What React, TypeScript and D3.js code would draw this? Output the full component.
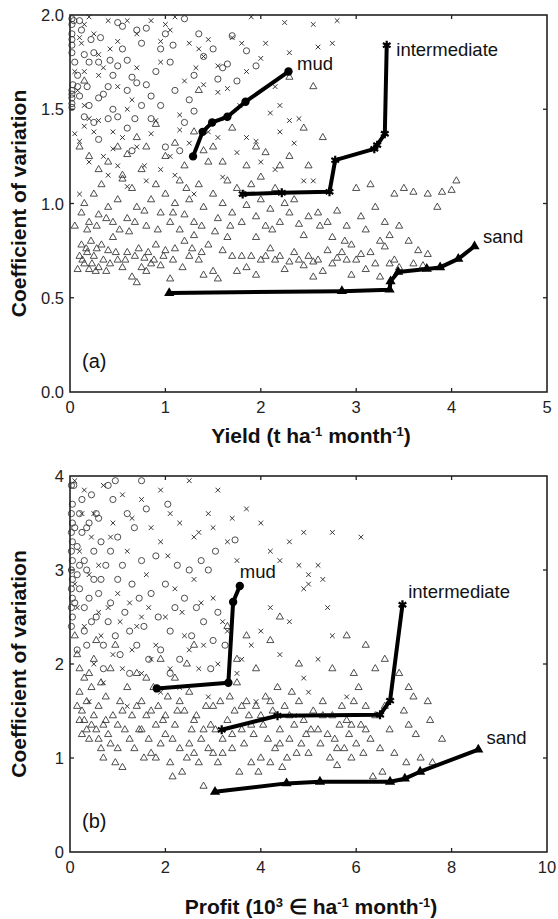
import * as d3 from "d3";

type Pt = [number, number];

// panel (a): yield vs coefficient of variation
const yieldTicks = [0, 1, 2, 3, 4, 5];
const cvTicksA = [0, 0.5, 1, 1.5, 2];

const mudScatterA: Pt[] = [
  [0.02, 1.98], [0.02, 1.95], [0.02, 1.9], [0.02, 1.87], [0.02, 1.84], [0.02, 1.6], [0.02, 1.58], [0.02, 1.56],
  [0.02, 1.53], [0.02, 1.51], [0.03, 1.63], [0.04, 1.97], [0.1, 1.97], [0.12, 1.92], [0.15, 1.79], [0.2, 1.75],
  [0.25, 1.8], [0.3, 1.75], [0.32, 1.88], [0.55, 1.94], [0.35, 1.58], [0.3, 1.56], [0.1, 1.57], [0.08, 1.62],
  [0.2, 1.52], [0.15, 1.46], [0.25, 1.43], [0.4, 1.45], [0.45, 1.68], [0.5, 1.73], [0.6, 1.6], [0.65, 1.67],
  [0.7, 1.64], [0.8, 1.63], [0.85, 1.57], [0.9, 1.7], [0.55, 1.82], [0.6, 1.76], [0.75, 1.85], [0.8, 1.93],
  [0.95, 1.82], [1.05, 1.75], [1.1, 1.6], [1.25, 1.55], [1.3, 1.68], [0.45, 1.5], [0.5, 1.46], [0.6, 1.4],
  [0.85, 1.45], [0.95, 1.52], [1.0, 1.9], [1.2, 1.98], [1.35, 1.9], [1.5, 1.82], [1.55, 1.66], [1.6, 1.72],
  [1.75, 1.65], [1.7, 1.89], [1.2, 1.43], [1.0, 1.3], [1.3, 1.49], [0.3, 1.34], [0.65, 1.28], [1.4, 1.78],
  [1.65, 1.74], [1.15, 1.28], [0.75, 1.52], [0.4, 1.62], [1.85, 1.81], [1.95, 1.73], [0.02, 1.8], [0.05, 1.75],
  [0.08, 1.68], [0.18, 1.62], [0.22, 1.87], [0.42, 1.76], [0.5, 1.96], [0.68, 1.45], [0.7, 1.92], [1.08, 1.84],
];

const intScatterA: Pt[] = [
  [0.1, 1.88], [0.12, 1.85], [0.15, 1.95], [0.2, 1.99], [0.25, 1.9], [0.4, 1.97], [0.5, 1.86], [0.6, 1.97],
  [0.7, 1.9], [0.85, 1.97], [0.95, 1.86], [1.05, 1.92], [1.1, 1.99], [1.25, 1.85], [1.35, 1.82], [1.4, 1.78],
  [1.45, 1.87], [1.55, 1.73], [1.7, 1.88], [1.8, 1.85], [1.9, 1.99], [2.05, 1.85], [2.25, 1.96], [2.55, 1.95],
  [2.75, 1.85], [2.3, 1.8], [2.0, 1.77], [1.65, 1.61], [0.15, 1.7], [0.3, 1.68], [0.35, 1.72], [0.5, 1.62],
  [0.7, 1.72], [0.95, 1.75], [1.2, 1.65], [1.4, 1.63], [1.55, 1.59], [1.85, 1.7], [2.1, 1.48], [2.2, 1.52],
  [2.3, 1.44], [2.4, 1.45], [2.35, 1.32], [2.2, 1.38], [2.6, 1.83], [0.05, 1.37], [0.1, 1.33], [0.15, 1.41],
  [0.25, 1.38], [0.3, 1.44], [0.45, 1.38], [0.55, 1.35], [0.7, 1.3], [0.85, 1.37], [1.15, 1.47], [1.15, 1.39],
  [1.25, 1.32], [1.45, 1.38], [1.55, 1.35], [1.75, 1.27], [1.95, 1.33], [2.0, 1.22], [2.45, 1.12], [2.55, 1.12],
  [2.15, 1.18], [0.2, 1.22], [0.35, 1.25], [0.45, 1.29], [0.5, 1.2], [0.8, 1.12], [0.95, 1.18], [1.1, 1.15],
  [1.3, 1.05], [0.1, 1.05], [0.6, 1.09], [1.6, 1.14], [1.85, 1.35], [0.4, 1.15], [2.8, 1.97], [1.0, 1.95],
  [0.3, 1.79], [0.6, 1.5], [0.9, 1.44], [0.05, 1.7], [0.15, 1.52], [0.08, 1.6], [0.2, 1.45], [0.42, 1.82],
  [0.65, 1.55], [0.78, 1.2], [1.05, 1.25], [1.32, 1.72], [1.62, 1.45], [1.78, 1.52], [2.15, 1.62],
];

const sandScatterA: Pt[] = [
  [0.08, 0.65], [0.1, 0.72], [0.12, 0.78], [0.15, 0.68], [0.18, 0.74], [0.2, 0.65], [0.22, 0.8], [0.25, 0.72],
  [0.28, 0.76], [0.3, 0.66], [0.35, 0.7], [0.38, 0.64], [0.4, 0.75], [0.45, 0.82], [0.5, 0.7], [0.55, 0.66],
  [0.6, 0.74], [0.65, 0.61], [0.7, 0.58], [0.72, 0.76], [0.78, 0.71], [0.8, 0.64], [0.85, 0.68], [0.9, 0.78],
  [0.95, 0.67], [1.0, 0.75], [1.05, 0.6], [1.1, 0.76], [1.15, 0.86], [1.2, 0.8], [1.25, 0.72], [1.3, 0.83],
  [1.35, 0.7], [1.4, 0.62], [1.45, 0.78], [1.5, 0.64], [1.55, 0.6], [1.6, 0.75], [1.7, 0.72], [1.75, 0.64],
  [1.8, 0.72], [1.85, 0.66], [1.9, 0.72], [1.95, 0.62], [2.0, 0.7], [2.05, 0.72], [2.1, 0.76], [2.15, 0.7],
  [2.2, 0.72], [2.25, 0.65], [2.3, 0.69], [2.35, 0.74], [2.4, 0.7], [2.45, 0.67], [2.5, 0.72], [2.55, 0.69],
  [2.6, 0.7], [2.65, 0.64], [2.7, 0.75], [2.75, 0.68], [2.8, 0.71], [2.85, 0.74], [2.9, 0.7], [2.95, 0.78],
  [3.0, 0.7], [3.05, 0.73], [3.1, 0.65], [3.15, 0.74], [3.2, 0.68], [3.25, 0.61], [3.3, 0.77], [3.35, 0.68],
  [3.4, 0.7], [3.45, 0.66], [3.6, 0.68], [3.7, 0.67], [3.75, 0.73], [2.55, 0.61], [2.95, 0.62], [1.95, 0.82],
  [2.45, 0.83], [0.05, 0.88], [0.12, 0.95], [0.15, 1.0], [0.2, 0.9], [0.25, 1.05], [0.3, 0.94], [0.33, 1.1],
  [0.4, 0.98], [0.45, 0.9], [0.5, 1.02], [0.55, 1.15], [0.6, 0.92], [0.65, 1.08], [0.7, 0.98], [0.75, 1.18],
  [0.8, 0.88], [0.85, 1.02], [0.9, 1.1], [0.95, 0.95], [1.0, 1.05], [1.05, 0.9], [1.1, 1.0], [1.15, 1.12],
  [1.2, 0.94], [1.25, 1.02], [1.3, 0.9], [1.35, 1.1], [1.4, 0.98], [1.45, 1.22], [1.5, 1.05], [1.55, 0.92],
  [1.6, 1.0], [1.65, 1.12], [1.7, 0.95], [1.75, 1.08], [1.8, 0.9], [1.85, 0.99], [1.9, 1.1], [1.95, 0.93],
  [2.0, 1.02], [2.05, 0.88], [2.1, 0.97], [2.15, 1.08], [2.2, 0.9], [2.3, 0.95], [2.35, 1.02], [2.4, 0.89],
  [2.5, 0.93], [2.6, 0.95], [2.7, 0.9], [2.8, 0.96], [2.9, 0.88], [3.0, 1.08], [3.05, 0.93], [3.15, 1.1],
  [3.2, 0.98], [3.3, 0.9], [3.4, 1.05], [3.5, 1.08], [3.6, 1.06], [3.75, 1.05], [3.9, 1.06], [4.0, 1.07],
  [4.05, 1.12], [3.35, 0.83], [3.55, 0.8], [3.85, 0.98], [3.1, 0.86], [0.1, 1.3], [0.2, 1.25], [0.3, 1.18],
  [0.4, 1.22], [0.5, 1.3], [0.6, 1.26], [0.7, 1.35], [0.8, 1.3], [0.9, 1.42], [1.0, 1.25], [1.1, 1.32],
  [1.2, 1.2], [1.3, 1.38], [1.4, 1.28], [1.5, 1.3], [1.6, 1.22], [1.7, 1.4], [1.85, 1.2], [1.95, 1.3],
  [2.05, 1.27], [2.2, 1.2], [2.3, 1.25], [2.5, 1.2], [2.65, 1.35], [2.45, 1.4], [0.15, 1.65], [0.55, 1.13],
  [2.0, 1.14], [2.3, 1.67], [2.55, 1.62], [1.35, 1.6], [0.13, 0.7], [0.17, 0.76], [0.23, 0.68], [0.27, 0.64],
  [0.33, 0.78], [0.42, 0.68], [0.48, 0.74], [0.58, 0.7], [0.62, 0.85], [0.68, 0.72], [0.75, 0.66], [0.82, 0.74],
  [0.88, 0.7], [0.98, 0.72], [1.08, 0.7], [1.18, 0.66], [1.28, 0.76], [1.38, 0.74], [0.18, 0.86], [0.28, 0.88],
  [0.38, 0.92], [0.52, 0.86], [0.68, 0.9], [0.78, 0.96], [0.92, 0.86], [1.08, 0.95], [1.22, 1.08], [1.38, 0.88],
  [1.52, 0.85], [1.68, 0.88], [1.82, 1.05], [2.12, 0.86], [2.25, 1.0], [2.62, 0.88], [2.75, 0.82], [2.88, 0.8],
  [3.25, 0.8], [3.45, 0.88], [3.65, 0.75], [1.65, 0.82],
];

const mudFrontA: Pt[] = [[1.29, 1.25], [1.39, 1.38], [1.49, 1.43], [1.65, 1.46], [1.84, 1.54], [2.29, 1.7]];
const intFrontA: Pt[] = [
  [1.81, 1.05], [2.22, 1.057], [2.72, 1.062], [2.78, 1.23], [3.19, 1.29], [3.22, 1.31], [3.3, 1.37], [3.32, 1.84],
];
const sandFrontA: Pt[] = [
  [1.04, 0.525], [2.85, 0.535], [3.35, 0.543], [3.36, 0.587], [3.44, 0.637], [3.74, 0.653], [3.88, 0.661],
  [4.07, 0.706], [4.24, 0.773],
];

// panel (b): profit vs coefficient of variation
const profitTicks = [0, 2, 4, 6, 8, 10];
const cvTicksB = [0, 1, 2, 3, 4];

const mudScatterB: Pt[] = [
  [0.05, 3.5], [0.05, 3.3], [0.05, 3.1], [0.05, 2.9], [0.05, 2.7], [0.05, 2.5], [0.05, 3.7], [0.08, 3.9],
  [0.1, 3.45], [0.15, 3.25], [0.15, 2.95], [0.2, 3.6], [0.2, 2.8], [0.25, 3.4], [0.25, 3.75], [0.3, 3.1],
  [0.3, 2.6], [0.35, 3.0], [0.4, 3.5], [0.4, 2.7], [0.45, 3.8], [0.5, 2.9], [0.5, 3.2], [0.55, 2.5],
  [0.6, 3.55], [0.6, 2.75], [0.65, 3.3], [0.7, 2.2], [0.75, 3.05], [0.8, 2.45], [0.8, 3.9], [0.85, 2.65],
  [0.9, 3.75], [0.95, 2.3], [1.0, 2.9], [1.0, 3.35], [1.05, 2.1], [1.1, 3.05], [1.15, 2.55], [1.2, 3.6],
  [1.25, 2.35], [1.3, 2.85], [1.35, 3.45], [1.4, 2.2], [1.45, 2.7], [1.5, 3.1], [1.55, 2.4], [1.6, 3.65],
  [1.65, 2.05], [1.7, 2.75], [1.8, 3.15], [1.85, 2.5], [1.9, 2.15], [2.0, 2.85], [2.05, 3.7], [2.1, 2.35],
  [2.2, 2.6], [2.25, 3.05], [2.3, 2.05], [2.4, 2.7], [2.5, 3.0], [2.55, 2.3], [2.65, 2.6], [2.75, 3.1],
  [2.8, 2.45], [2.9, 3.0], [3.0, 2.25], [3.1, 2.55], [3.25, 2.2], [3.05, 3.2], [2.95, 1.95], [0.3, 2.35],
  [0.15, 2.15], [0.7, 1.95], [1.25, 1.9], [3.46, 3.32], [0.95, 3.95], [1.5, 3.95], [2.1, 1.9], [0.55, 3.6],
  [0.03, 3.9], [0.03, 3.6], [0.03, 3.4], [0.03, 3.2], [0.03, 3.0], [0.03, 2.8], [0.03, 2.6], [0.03, 2.4],
  [0.1, 2.65], [0.2, 3.05], [0.35, 3.45], [0.45, 2.45], [0.65, 2.9], [0.85, 3.2], [0.35, 2.2],
];

const intScatterB: Pt[] = [
  [0.1, 3.95], [0.3, 3.85], [0.5, 3.6], [0.7, 3.9], [0.9, 3.5], [1.1, 3.8], [1.3, 3.55], [1.5, 3.75],
  [1.7, 3.45], [1.9, 3.85], [2.1, 3.6], [2.3, 3.5], [2.5, 3.95], [2.7, 3.4], [2.9, 3.6], [3.1, 3.85],
  [3.3, 3.3], [3.5, 3.1], [3.7, 3.65], [4.0, 3.5], [4.2, 3.2], [4.4, 3.1], [4.6, 3.3], [4.8, 3.05],
  [5.0, 2.95], [5.2, 3.05], [5.5, 3.4], [6.1, 3.35], [4.9, 3.4], [5.0, 2.85], [5.3, 2.9], [4.9, 2.8],
  [5.4, 2.6], [5.5, 2.3], [5.2, 2.05], [4.9, 1.85], [4.6, 2.45], [4.2, 2.6], [4.0, 2.35], [3.8, 2.2],
  [4.4, 2.1], [3.6, 2.05], [0.2, 3.2], [0.4, 2.95], [0.6, 3.05], [0.8, 2.6], [1.0, 2.75], [1.2, 3.2],
  [1.4, 2.4], [1.6, 2.95], [1.8, 2.2], [2.0, 2.5], [2.2, 2.8], [2.4, 2.3], [2.6, 2.9], [2.8, 2.2],
  [3.0, 2.7], [3.2, 2.45], [0.3, 2.4], [0.5, 2.0], [0.7, 1.8], [0.9, 2.1], [1.1, 1.95], [1.3, 2.15],
  [1.5, 1.9], [1.7, 2.05], [1.9, 1.7], [2.1, 1.95], [2.3, 1.75], [2.5, 2.15], [2.7, 1.95], [2.9, 1.65],
  [3.1, 2.0], [3.3, 2.35], [3.5, 1.9], [0.15, 2.6], [0.4, 1.6], [0.6, 2.55], [1.2, 1.55], [1.5, 2.5],
  [1.9, 3.3], [2.6, 3.35], [5.0, 1.7], [5.8, 1.65], [4.7, 1.45], [3.9, 1.6], [3.4, 3.55], [3.0, 3.45],
  [0.1, 2.85], [0.25, 3.6], [0.45, 3.35], [0.65, 2.3], [0.85, 3.35], [1.05, 2.45], [1.25, 2.65], [1.65, 2.6],
  [2.05, 3.15], [2.35, 2.55], [2.75, 2.65],
];

const sandScatterB: Pt[] = [
  [0.1, 2.3], [0.15, 2.1], [0.2, 1.95], [0.2, 1.7], [0.25, 1.5], [0.3, 1.4], [0.3, 1.85], [0.35, 1.6],
  [0.4, 1.2], [0.45, 1.35], [0.45, 1.75], [0.5, 2.05], [0.55, 1.3], [0.6, 1.55], [0.65, 1.1], [0.7, 1.35],
  [0.75, 1.65], [0.8, 1.25], [0.85, 1.95], [0.9, 1.45], [0.95, 0.95], [1.0, 1.1], [1.05, 1.6], [1.1, 0.9],
  [1.15, 1.3], [1.2, 1.75], [0.55, 2.25], [0.95, 2.2], [0.2, 1.4], [0.7, 1.0], [1.3, 1.45], [1.35, 1.1],
  [1.4, 1.9], [1.45, 1.3], [1.5, 1.6], [1.55, 1.0], [1.6, 1.45], [1.65, 1.2], [1.7, 1.05], [1.75, 1.75],
  [1.8, 1.35], [1.85, 1.55], [1.9, 1.15], [1.95, 1.4], [2.0, 1.25], [2.05, 1.65], [2.1, 0.95], [2.15, 0.8],
  [2.2, 1.35], [2.25, 1.5], [2.3, 1.1], [2.35, 0.85], [2.4, 1.5], [2.45, 1.0], [2.5, 1.7], [2.55, 1.3],
  [2.6, 1.05], [2.65, 1.45], [2.7, 0.95], [2.75, 1.2], [2.8, 0.7], [2.85, 1.55], [2.9, 1.1], [2.95, 1.35],
  [3.0, 1.05], [1.6, 1.85], [2.2, 1.85], [2.6, 2.2], [1.9, 2.05], [2.45, 2.0], [3.05, 1.3], [3.1, 0.95],
  [3.15, 1.6], [3.2, 1.2], [3.3, 1.4], [3.35, 1.65], [3.4, 1.1], [3.45, 1.5], [3.5, 1.8], [3.55, 0.85],
  [3.6, 1.3], [3.65, 1.15], [3.7, 1.6], [3.75, 1.45], [3.8, 0.95], [3.85, 1.25], [3.9, 1.55], [3.95, 0.85],
  [4.0, 1.0], [4.05, 1.35], [4.1, 1.65], [4.15, 1.2], [4.2, 0.95], [4.25, 1.5], [4.3, 1.1], [4.35, 1.75],
  [4.4, 1.3], [4.45, 0.9], [4.5, 1.55], [4.55, 1.0], [4.6, 1.2], [4.65, 1.7], [4.7, 1.35], [4.75, 1.05],
  [4.8, 1.6], [4.85, 1.15], [4.9, 1.4], [4.95, 1.25], [3.5, 2.05], [4.2, 2.25], [4.4, 2.5], [3.7, 2.3],
  [3.3, 2.4], [4.8, 2.0], [3.9, 1.95], [5.0, 1.05], [5.1, 1.5], [5.2, 1.3], [5.25, 1.15], [5.3, 1.6],
  [5.4, 1.25], [5.45, 1.0], [5.5, 1.45], [5.55, 1.2], [5.6, 0.92], [5.65, 1.35], [5.7, 1.55], [5.75, 1.1],
  [5.8, 1.4], [5.85, 1.25], [5.9, 1.0], [5.95, 1.6], [6.0, 1.15], [6.05, 1.75], [6.1, 1.35], [6.15, 1.05],
  [6.2, 1.55], [6.3, 1.2], [6.35, 0.8], [6.4, 1.45], [6.5, 1.1], [6.55, 0.85], [6.6, 1.55], [6.7, 1.3],
  [6.8, 1.05], [7.0, 1.5], [7.05, 0.95], [7.1, 1.35], [7.2, 1.65], [7.25, 1.25], [7.35, 1.0], [7.5, 1.6],
  [7.55, 1.4], [7.8, 1.2], [7.6, 0.95], [6.9, 1.9], [6.6, 2.05], [5.95, 1.9], [5.5, 1.95], [6.2, 2.2],
  [5.8, 2.3], [7.1, 1.75], [6.4, 1.95], [0.15, 1.55], [0.25, 1.25], [0.35, 1.3], [0.4, 1.9], [0.5, 1.45],
  [0.6, 1.2], [0.65, 1.8], [0.75, 1.4], [0.85, 1.15], [1.0, 1.35], [1.1, 1.5], [1.25, 1.2], [1.4, 1.55],
  [1.5, 1.3], [1.7, 1.5], [1.8, 1.0], [2.0, 1.45], [2.15, 1.2], [2.3, 1.6], [2.5, 1.15], [2.6, 1.4],
  [2.8, 1.3], [3.0, 1.55], [3.2, 1.05], [3.4, 1.25], [3.6, 1.55], [3.8, 1.35], [4.0, 1.45], [4.2, 1.6],
  [4.4, 1.15], [4.6, 1.45], [5.05, 1.3], [5.3, 1.45], [5.6, 1.1], [5.9, 1.35], [6.2, 1.3],
];

const mudFrontB: Pt[] = [[1.82, 1.74], [3.32, 1.8], [3.42, 2.66], [3.56, 2.83]];
const intFrontB: Pt[] = [[3.18, 1.3], [4.35, 1.45], [6.5, 1.46], [6.71, 1.61], [6.97, 2.63]];
const sandFrontB: Pt[] = [
  [3.04, 0.64], [4.54, 0.73], [5.24, 0.748], [6.71, 0.748], [7.02, 0.78], [7.34, 0.854], [8.56, 1.09],
];

const FONT = "'Liberation Sans', Arial, Helvetica, sans-serif";
const LEFT = 70;
const RIGHT = 547;

type Label = { text: string; x: number; y: number };

type PanelProps = {
  top: number;
  bottom: number;
  xMax: number;
  yMax: number;
  xTicks: number[];
  yTicks: number[];
  yFormat: (v: number) => string;
  mud: Pt[];
  inter: Pt[];
  sand: Pt[];
  mudFront: Pt[];
  intFront: Pt[];
  sandFront: Pt[];
  labels: Label[];
  tag: string;
  xTitle: React.ReactNode;
};

const circleSym = d3.symbol(d3.symbolCircle, 30)();
const timesSym = d3.symbol(d3.symbolTimes, 16)();
const triSym = d3.symbol(d3.symbolTriangle, 22)();
const bigCircle = d3.symbol(d3.symbolCircle, 55)();
const bigAst = d3.symbol(d3.symbolAsterisk, 55)();
const bigTri = d3.symbol(d3.symbolTriangle, 45)();

function Panel(p: PanelProps) {
  const x = d3.scaleLinear([0, p.xMax], [LEFT, RIGHT]);
  const y = d3.scaleLinear([0, p.yMax], [p.bottom, p.top]);
  const line = d3.line<Pt>((d) => x(d[0]), (d) => y(d[1]));
  const mid = (p.top + p.bottom) / 2;
  const tk = 4;

  return (
    <g fontFamily={FONT}>
      <g fill="none" stroke="#3a3a3a" strokeWidth={0.9}>
        {p.sand.map((d, i) => (
          <path key={"s" + i} d={triSym} transform={`translate(${x(d[0])},${y(d[1])})`} />
        ))}
        {p.inter.map((d, i) => (
          <path key={"i" + i} d={timesSym} stroke="#222" transform={`translate(${x(d[0])},${y(d[1])})`} />
        ))}
        {p.mud.map((d, i) => (
          <path key={"m" + i} d={circleSym} transform={`translate(${x(d[0])},${y(d[1])})`} />
        ))}
      </g>

      {[p.mudFront, p.intFront, p.sandFront].map((f, k) => (
        <path key={k} d={line(f) || undefined} fill="none" stroke="#000" strokeWidth={4} strokeLinejoin="round" />
      ))}
      {p.mudFront.map((d, i) => (
        <path key={"mf" + i} d={bigCircle} fill="#000" transform={`translate(${x(d[0])},${y(d[1])})`} />
      ))}
      {p.intFront.map((d, i) => (
        <path key={"if" + i} d={bigAst} stroke="#000" strokeWidth={2.2} transform={`translate(${x(d[0])},${y(d[1])})`} />
      ))}
      {p.sandFront.map((d, i) => (
        <path key={"sf" + i} d={bigTri} fill="#000" transform={`translate(${x(d[0])},${y(d[1])})`} />
      ))}

      <rect x={LEFT} y={p.top} width={RIGHT - LEFT} height={p.bottom - p.top} fill="none" stroke="#222" strokeWidth={1.6} />
      <g stroke="#222" strokeWidth={1.3}>
        {p.xTicks.slice(1, -1).map((t) => (
          <g key={"xt" + t}>
            <line x1={x(t)} x2={x(t)} y1={p.bottom} y2={p.bottom - tk} />
            <line x1={x(t)} x2={x(t)} y1={p.top} y2={p.top + tk} />
          </g>
        ))}
        {p.yTicks.slice(1, -1).map((t) => (
          <g key={"yt" + t}>
            <line x1={LEFT} x2={LEFT + tk} y1={y(t)} y2={y(t)} />
            <line x1={RIGHT} x2={RIGHT - tk} y1={y(t)} y2={y(t)} />
          </g>
        ))}
      </g>

      <g fontSize={16.5} fill="#222">
        {p.xTicks.map((t) => (
          <text key={"xl" + t} x={x(t)} y={p.bottom + 21} textAnchor="middle">
            {t}
          </text>
        ))}
        {p.yTicks.map((t) => (
          <text key={"yl" + t} x={LEFT - 6} y={y(t) + 6} textAnchor="end">
            {p.yFormat(t)}
          </text>
        ))}
      </g>

      <g fontSize={18.5} fill="#111">
        {p.labels.map((l) => (
          <text key={l.text} x={x(l.x)} y={y(l.y)}>
            {l.text}
          </text>
        ))}
        <text x={82} y={p.bottom - 24} fontSize={20}>
          {p.tag}
        </text>
      </g>

      <text
        transform={`translate(26,${mid}) rotate(-90)`}
        textAnchor="middle"
        fontSize={21}
        fontWeight="bold"
        fill="#111"
      >
        Coefficient of variation
      </text>
      {p.xTitle}
    </g>
  );
}

const sup = (s: string) => (
  <tspan baselineShift="super" fontSize={13}>
    {s}
  </tspan>
);

export default function App() {
  return (
    <svg width={558} height={919} style={{ position: "absolute", left: 0, top: 0, background: "#fff" }}>
      <Panel
        top={15}
        bottom={392}
        xMax={5}
        yMax={2}
        xTicks={yieldTicks}
        yTicks={cvTicksA}
        yFormat={d3.format(".1f")}
        mud={mudScatterA}
        inter={intScatterA}
        sand={sandScatterA}
        mudFront={mudFrontA}
        intFront={intFrontA}
        sandFront={sandFrontA}
        labels={[
          { text: "mud", x: 2.38, y: 1.707 },
          { text: "intermediate", x: 3.42, y: 1.78 },
          { text: "sand", x: 4.33, y: 0.79 },
        ]}
        tag="(a)"
        xTitle={
          <text x={311} y={443} textAnchor="middle" fontSize={21} fontWeight="bold" fontFamily={FONT} fill="#111">
            Yield (t ha{sup("-1")} month{sup("-1")})
          </text>
        }
      />
      <Panel
        top={476}
        bottom={852}
        xMax={10}
        yMax={4}
        xTicks={profitTicks}
        yTicks={cvTicksB}
        yFormat={d3.format("d")}
        mud={mudScatterB}
        inter={intScatterB}
        sand={sandScatterB}
        mudFront={mudFrontB}
        intFront={intFrontB}
        sandFront={sandFrontB}
        labels={[
          { text: "mud", x: 3.56, y: 2.91 },
          { text: "intermediate", x: 7.09, y: 2.7 },
          { text: "sand", x: 8.73, y: 1.15 },
        ]}
        tag="(b)"
        xTitle={
          <text x={311} y={914} textAnchor="middle" fontSize={21} fontWeight="bold" fontFamily={FONT} fill="#111">
            Profit (10{sup("3")} ∈ ha{sup("-1")} month{sup("-1")})
          </text>
        }
      />
    </svg>
  );
}
